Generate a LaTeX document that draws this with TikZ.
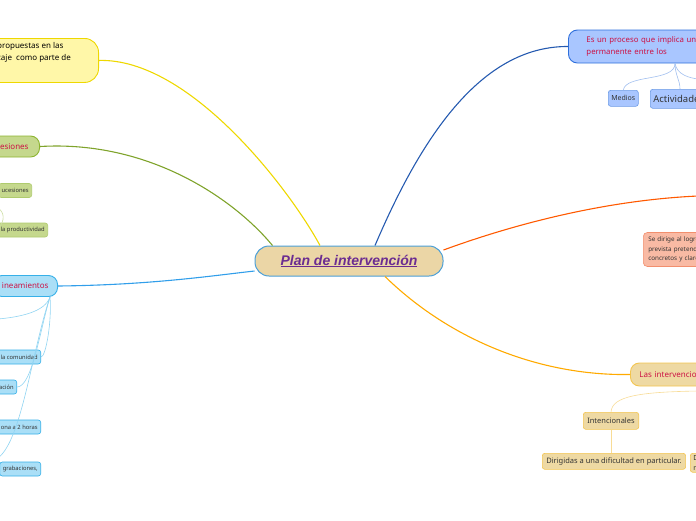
\documentclass[tikz,border=0pt]{standalone}
\usepackage{fontspec}
\setmainfont{Noto Sans}
\newfontfamily\arialfont{Liberation Sans}
\usepackage{tikz}
\usetikzlibrary{positioning, calc}
\usepackage{xcolor}

\definecolor{crimson}{HTML}{CC1144}
\definecolor{planpurple}{HTML}{6B2C91}
\definecolor{plantan}{HTML}{EBD6A6}
\definecolor{planblue}{HTML}{4A9FD8}
\definecolor{ylwfill}{HTML}{FFF7A8}
\definecolor{ylwline}{HTML}{EED800}
\definecolor{grnfill}{HTML}{C5D88D}
\definecolor{grnline}{HTML}{8DB530}
\definecolor{cyafill}{HTML}{AADFF7}
\definecolor{cyaline}{HTML}{36B0E8}
\definecolor{bluefill}{HTML}{A9C6FF}
\definecolor{blueline}{HTML}{2F70DC}
\definecolor{salfill}{HTML}{F9BAA4}
\definecolor{salline}{HTML}{F28F6E}
\definecolor{tanfill}{HTML}{EED9A3}
\definecolor{tanline}{HTML}{F3C550}

\tikzset{
  topic/.style={draw, line width=0.9pt, rounded corners=9pt, inner ysep=4pt, minimum height=21pt,
    font=\fontsize{8}{10}\selectfont, text=crimson},
  leaf/.style={draw, line width=0.6pt, rounded corners=2.5pt, inner xsep=3pt, inner ysep=2pt,
    minimum height=14pt, font=\fontsize{5.8}{7}\selectfont, text=black!80},
  branch/.style={line width=1.1pt},
  twig/.style={line width=0.6pt}
}

\begin{document}
\begin{tikzpicture}[x=1pt, y=-1pt]
        \useasboundingbox (0,0) rectangle (696,520);
        \clip (0,0) rectangle (696,520);

        % Central topic
        \node[draw=planblue, fill=plantan, line width=1pt, rounded corners=14pt,
          minimum width=188pt, minimum height=30pt, text=planpurple,
          font=\arialfont\fontsize{14}{16}\selectfont\bfseries\itshape] (plan) at (349,261)
          {\underline{Plan de intervención}};

        % Left branches
        \node[draw=ylwline, fill=ylwfill, line width=0.9pt, rounded corners=14pt,
          minimum width=130pt, minimum height=44pt, anchor=north east] (yel) at (99,38) {};
        \node[anchor=north west, align=left, inner sep=0pt,
          font=\fontsize{8}{12.5}\selectfont] (yeltxt) at (-3,42)
          {propuestas en las\\zaje\ \ como parte de};

        \node[topic, draw=grnline, fill=grnfill, inner xsep=11pt, anchor=east] (grn) at (40,146.5) {esiones};
        \node[leaf, draw=grnline!70, fill=grnfill, anchor=east] (suc) at (32,190.5) {ucesiones};
        \node[leaf, draw=grnline!70, fill=grnfill, anchor=east] (prod) at (48,230) {la productividad};

        \node[topic, draw=cyaline, fill=cyafill, inner xsep=9pt, anchor=east] (lin) at (58,286) {ineamientos};
        \node[leaf, draw=cyaline, fill=cyafill, anchor=east] (com) at (41,357) {la comunidad};
        \node[leaf, draw=cyaline, fill=cyafill, anchor=east] (acc) at (17,387) {ación};
        \node[leaf, draw=cyaline, fill=cyafill, anchor=east] (hor) at (41,427) {ona a 2 horas};
        \node[leaf, draw=cyaline, fill=cyafill, anchor=east] (grab) at (41,469) {grabaciones,};

        % Right branches
        \node[topic, draw=blueline, fill=bluefill, align=left, text width=150pt, inner xsep=18pt,
          minimum height=33pt, font=\fontsize{7.8}{12}\selectfont, anchor=west] (proc) at (568,46.5)
          {Es un proceso que implica un\\permanente entre los};
        \node[leaf, draw=blueline!70, fill=bluefill, font=\fontsize{7}{8}\selectfont,
          minimum height=16pt, anchor=north west] (med) at (608,90) {Medios};
        \node[leaf, draw=blueline!70, fill=bluefill, font=\fontsize{9.5}{11}\selectfont,
          minimum height=19pt, anchor=north west] (act) at (650,89) {Actividades};

        \node[draw=salline, fill=salfill, line width=0.6pt, rounded corners=4pt, align=left,
          text width=70pt, inner xsep=5pt, minimum height=34pt, font=\fontsize{6.3}{9.2}\selectfont,
          text=black!80, anchor=west] (log) at (643,249.5) {Se dirige al logro\\prevista pretendida\\concretos y claros};

        \node[topic, draw=tanline, fill=tanfill, text width=80pt, inner xsep=9pt, minimum height=23pt,
          font=\fontsize{8}{9}\selectfont, anchor=west] (inter) at (630,374.5) {Las intervenciones};
        \node[leaf, draw=tanline, fill=tanfill, font=\fontsize{7.5}{9}\selectfont, inner xsep=4pt,
          minimum height=17pt, anchor=north west] (inten) at (583,412) {Intencionales};
        \node[leaf, draw=tanline, fill=tanfill, font=\fontsize{7.5}{9}\selectfont, inner xsep=4pt,
          minimum height=16pt, anchor=north west] (dirig) at (542,453) {Dirigidas a una dificultad en particular.};
        \node[leaf, draw=tanline, fill=tanfill, align=left, text width=30pt,
          font=\fontsize{7}{10}\selectfont, anchor=north west] (dmas) at (690,453) {D\\n};

        \coordinate (lhub) at (50,297);
        \coordinate (lout1) at (-2,319);
        \coordinate (lout2) at (-2,458);
        \coordinate (gstub1) at (-2,208);
        \coordinate (rout1) at (698,196);
        \coordinate (rout2) at (698,79);
        \coordinate (rout3) at (698,391);

        % Main connectors
        \draw[branch, ylwline] (yel.east) .. controls (190,58) and (290,190) .. (plan.north west -| 320,0);
        \draw[branch, grnline!90!black] (grn.east) .. controls (150,140) and (235,200) .. ($(plan.north west)+(18,0)$);
        \draw[branch, cyaline!90!blue] (lin.east) .. controls (150,285) and (210,276) .. (plan.west |- 0,271);
        \draw[branch, blueline!80!black] ($(plan.north)+(26,0)$) .. controls (420,140) and (480,46) .. (proc.west);
        \draw[branch, orange!70!red] ($(plan.east)+(0,-11)$) .. controls (520,222) and (610,200) .. (rout1);
        \draw[branch, orange!60!yellow!95!red] ($(plan.south)+(36,0)$) .. controls (450,340) and (540,376) .. (inter.west);

        % Sub connectors
        \draw[twig, cyaline!55] (lhub) .. controls (45,312) and (20,317) .. (lout1);
        \draw[twig, cyaline!55] (lhub) .. controls (52,320) and (46,357) .. (com.east);
        \draw[twig, cyaline!55] (lhub) .. controls (40,330) and (32,387) .. (acc.east);
        \draw[twig, cyaline!55] (lhub) .. controls (32,350) and (22,440) .. (lout2);
        \draw[twig, grnline!45] (gstub1) .. controls (4,212) and (6,220) .. (prod.west);

        \draw[twig, blueline!45] (proc.south -| 675,0) .. controls (675,82) and (626,74) .. (med.north);
        \draw[twig, blueline!45] (proc.south -| 675,0) .. controls (675,75) and (680,80) .. (act.north -| 680,0);
        \draw[twig, blueline!45] (proc.south -| 675,0) .. controls (677,75) and (690,78) .. (rout2);

        \draw[twig, tanline!60] (rout3) .. controls (640,392) and (612,396) .. (inten.north);
        \draw[twig, tanline!60] (inten.south) -- (inten.south |- dirig.north);
\end{tikzpicture}
\end{document}
